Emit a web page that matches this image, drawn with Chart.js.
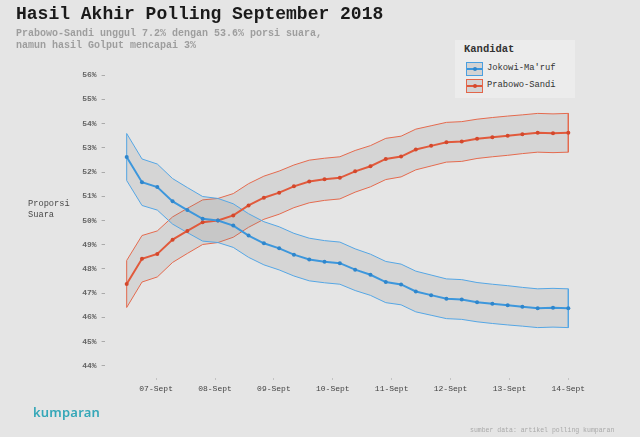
<!DOCTYPE html>
<html>
<head>
<meta charset="utf-8">
<script src="https://cdn.jsdelivr.net/npm/chart.js@4.4.1/dist/chart.umd.min.js"></script>
<style>
  html, body { margin:0; padding:0; background:#e5e5e5; }
  #wrap { position:relative; width:640px; height:437px; background:#e5e5e5; overflow:hidden; }
  #c { position:absolute; left:0; top:0; }
  .mono { font-family:"Liberation Mono","DejaVu Sans Mono",monospace; position:absolute; white-space:nowrap; }
  #title { left:16px; top:3px; font-size:18px; font-weight:bold; color:#1a1a1a; line-height:22px; }
  #sub { left:16px; top:28px; font-size:10px; font-weight:bold; color:#9e9e9e; line-height:11.5px; }
  #ytitle { left:28px; top:199px; font-size:8.7px; color:#4a4a4a; line-height:11px; }
  #legend { position:absolute; left:455px; top:40px; width:120px; height:58px; background:#ececec; }
  #legend .lt { left:9px; top:3px; font-size:10.5px; font-weight:bold; color:#333; }
  .item { position:absolute; left:11px; width:17px; height:14px; box-sizing:border-box; background:#d3d3d3; }
  .item .ln { position:absolute; left:0; right:0; top:5px; height:2px; }
  .item .dt { position:absolute; left:6px; top:4px; width:4px; height:4px; border-radius:2px; }
  .lab { left:32px; font-size:8.8px; color:#333; }
  #logo { position:absolute; left:33px; top:403px; font-family:"Noto Sans",sans-serif; font-weight:600; font-size:13px; color:#35a7b8; letter-spacing:0.2px; }
  #src { left:470px; top:427px; font-size:6.5px; color:#a9a9a9; }
</style>
</head>
<body>
<div id="wrap">
  <canvas id="c" width="640" height="437"></canvas>
  <div id="title" class="mono">Hasil Akhir Polling September 2018</div>
  <div id="sub" class="mono">Prabowo-Sandi unggul 7.2% dengan 53.6% porsi suara,<br>namun hasil Golput mencapai 3%</div>
  <div id="ytitle" class="mono">Proporsi<br>Suara</div>
  <div id="legend">
    <div class="mono lt">Kandidat</div>
    <div class="item" style="top:22px;border:1px solid #4a9fe0;"><div class="ln" style="background:#3b96dc"></div><div class="dt" style="background:#2f86cc"></div></div>
    <div class="mono lab" style="top:23px;">Jokowi-Ma'ruf</div>
    <div class="item" style="top:39px;border:1px solid #e2664a;"><div class="ln" style="background:#e0583a"></div><div class="dt" style="background:#d4482c"></div></div>
    <div class="mono lab" style="top:40px;">Prabowo-Sandi</div>
  </div>
  <div id="logo">kumparan</div>
  <div id="src" class="mono">sumber data: artikel polling kumparan</div>
</div>
<script>
// x positions (days of September), 30 poll readings
const xDays = [6.50, 6.76, 7.02, 7.28, 7.53, 7.79, 8.05, 8.31, 8.57, 8.83,
               9.09, 9.34, 9.60, 9.86, 10.12, 10.38, 10.64, 10.90, 11.16, 11.41,
               11.67, 11.93, 12.19, 12.45, 12.71, 12.97, 13.22, 13.48, 13.74, 14.00];

const jokowi = [52.62, 51.58, 51.38, 50.79, 50.43, 50.07, 50.00, 49.79, 49.38, 49.06,
                48.85, 48.59, 48.39, 48.30, 48.24, 47.97, 47.76, 47.46, 47.36, 47.07,
                46.92, 46.77, 46.74, 46.63, 46.56, 46.50, 46.44, 46.38, 46.40, 46.38];
const jokowiHigh = [53.59, 52.54, 52.33, 51.73, 51.36, 50.99, 50.91, 50.69, 50.28, 49.95,
                    49.74, 49.47, 49.27, 49.17, 49.11, 48.83, 48.61, 48.31, 48.20, 47.91,
                    47.75, 47.59, 47.56, 47.44, 47.37, 47.31, 47.24, 47.18, 47.20, 47.18];
const jokowiLow = [51.65, 50.62, 50.43, 49.85, 49.50, 49.15, 49.09, 48.89, 48.48, 48.17,
                   47.96, 47.71, 47.51, 47.43, 47.37, 47.11, 46.91, 46.61, 46.52, 46.23,
                   46.09, 45.95, 45.92, 45.82, 45.75, 45.69, 45.64, 45.58, 45.60, 45.58];

const prabowo = [47.38, 48.42, 48.62, 49.21, 49.57, 49.93, 50.00, 50.21, 50.62, 50.94,
                 51.15, 51.41, 51.61, 51.70, 51.76, 52.03, 52.24, 52.54, 52.64, 52.93,
                 53.08, 53.23, 53.26, 53.37, 53.44, 53.50, 53.56, 53.62, 53.60, 53.62];
const prabowoHigh = [48.35, 49.38, 49.57, 50.15, 50.50, 50.85, 50.91, 51.11, 51.52, 51.83,
                     52.04, 52.29, 52.49, 52.57, 52.63, 52.89, 53.09, 53.39, 53.48, 53.77,
                     53.91, 54.05, 54.08, 54.18, 54.25, 54.31, 54.36, 54.42, 54.40, 54.42];
const prabowoLow = [46.41, 47.46, 47.67, 48.27, 48.64, 49.01, 49.09, 49.31, 49.72, 50.05,
                    50.26, 50.53, 50.73, 50.83, 50.89, 51.17, 51.39, 51.69, 51.80, 52.09,
                    52.25, 52.41, 52.44, 52.56, 52.63, 52.69, 52.76, 52.82, 52.80, 52.82];

const xTickValues = [7, 8, 9, 10, 11, 12, 13, 14];
const xTickLabels = ['07-Sept', '08-Sept', '09-Sept', '10-Sept', '11-Sept', '12-Sept', '13-Sept', '14-Sept'];
const yTickValues = [44, 45, 46, 47, 48, 49, 50, 51, 52, 53, 54, 55, 56];

function pts(xs, ys) { return xs.map((x, i) => ({x: x, y: ys[i]})); }
function band(xs, hi, lo) {
  const up = pts(xs, hi);
  const dn = pts(xs, lo).reverse();
  return up.concat(dn, [up[0]]);
}

const mono = '"Liberation Mono","DejaVu Sans Mono",monospace';

new Chart(document.getElementById('c'), {
  type: 'line',
  data: {
    datasets: [
      { label: 'Jokowi-Ma\'ruf', data: pts(xDays, jokowi), borderColor: '#3d97dc', borderWidth: 2,
        pointRadius: 2, pointBorderWidth: 0, pointBackgroundColor: '#2f86cc', fill: false, order: 1, tension: 0 },
      { label: 'Prabowo-Sandi', data: pts(xDays, prabowo), borderColor: '#e15a3c', borderWidth: 2,
        pointRadius: 2, pointBorderWidth: 0, pointBackgroundColor: '#d4482c', fill: false, order: 2, tension: 0 },
      { label: 'Jokowi band', data: band(xDays, jokowiHigh, jokowiLow), borderColor: '#55a6e4', borderWidth: 1,
        backgroundColor: 'rgba(120,120,120,0.15)', fill: 'shape', pointRadius: 0, order: 5, tension: 0 },
      { label: 'Prabowo band', data: band(xDays, prabowoHigh, prabowoLow), borderColor: '#e46a4e', borderWidth: 1,
        backgroundColor: 'rgba(120,120,120,0.15)', fill: 'shape', pointRadius: 0, order: 6, tension: 0 }
    ]
  },
  options: {
    responsive: false,
    animation: false,
    layout: { padding: { left: 0, right: 49.6, top: 63, bottom: 29 } },
    plugins: { legend: { display: false }, tooltip: { enabled: false } },
    scales: {
      x: {
        type: 'linear', min: 6.125, max: 14.375,
        afterBuildTicks: s => { s.ticks = xTickValues.map(v => ({value: v})); },
        afterFit: s => { s.height = 30; },
        grid: { drawOnChartArea: false, drawTicks: true, tickLength: 2, color: '#c2c2c2' },
        border: { display: false },
        ticks: {
          autoSkip: false, maxRotation: 0, padding: 4, color: '#444',
          font: { family: mono, size: 8 },
          callback: v => { const i = xTickValues.indexOf(v); return i >= 0 ? xTickLabels[i] : ''; }
        }
      },
      y: {
        type: 'linear', min: 43.5, max: 56.5,
        afterBuildTicks: s => { s.ticks = yTickValues.map(v => ({value: v})); },
        afterFit: s => { s.width = 104.6; },
        grid: { drawOnChartArea: false, drawTicks: true, tickLength: 3, color: '#aaa' },
        border: { display: false },
        ticks: {
          padding: 5, color: '#666',
          font: { family: mono, size: 8, weight: 'bold' },
          callback: v => v + '%'
        }
      }
    }
  }
});
</script>
</body>
</html>
